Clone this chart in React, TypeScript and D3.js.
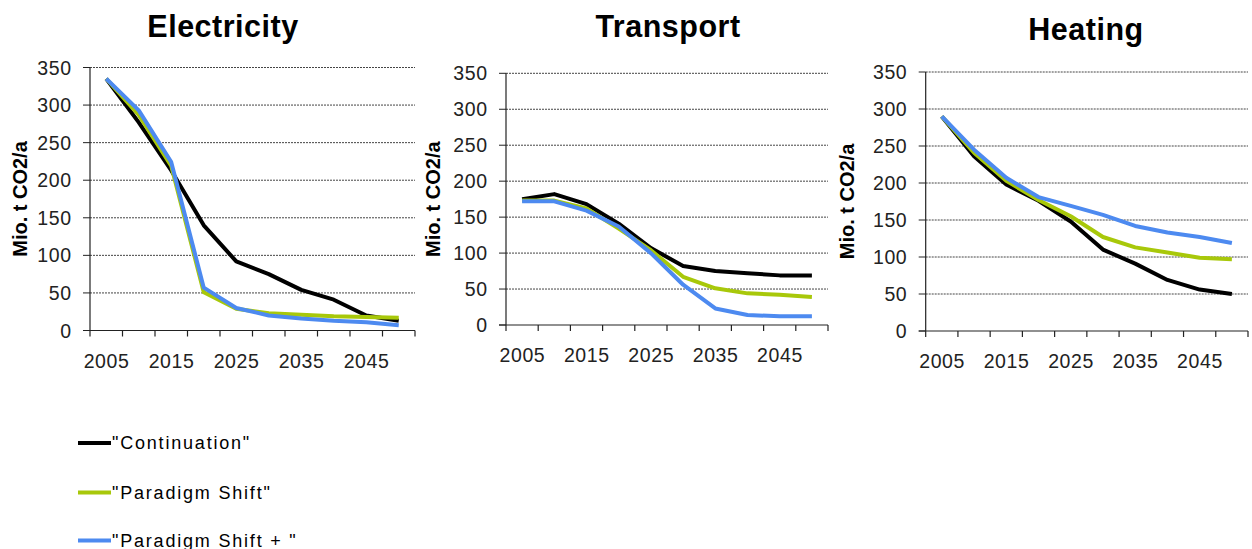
import React from "react";
import * as d3 from "d3";

const years = [2005, 2010, 2015, 2020, 2025, 2030, 2035, 2040, 2045, 2050];
const yTicks = [0, 50, 100, 150, 200, 250, 300, 350];
const xLabelYears = [2005, 2015, 2025, 2035, 2045];

const seriesNames = ['"Continuation"', '"Paradigm Shift"', '"Paradigm Shift + "'];
const seriesColors = ["#000000", "#a8c80a", "#4d8af0"];

const electricityContinuation = [335, 277, 213, 140, 92, 75, 54, 41, 20, 13];
const electricityParadigm = [335, 287, 219, 51, 29, 23, 21, 19, 18, 17];
const electricityParadigmPlus = [335, 293, 224, 57, 30, 20, 16, 13, 11, 7];

const transportContinuation = [175, 182, 168, 141, 107, 82, 75, 72, 69, 69];
const transportParadigm = [173, 173, 162, 134, 104, 67, 51, 44, 42, 39];
const transportParadigmPlus = [172, 172, 159, 137, 100, 56, 23, 14, 12, 12];

const heatingContinuation = [290, 236, 198, 176, 148, 110, 91, 69, 56, 50];
const heatingParadigm = [290, 241, 203, 177, 155, 127, 113, 106, 99, 97];
const heatingParadigmPlus = [290, 245, 207, 181, 169, 157, 142, 133, 127, 119];

const panels = [
  {
    title: "Electricity",
    series: [electricityContinuation, electricityParadigm, electricityParadigmPlus],
    left: 90, right: 415, top: 67.5, bottom: 330.5, titleX: 223, titleY: 37, labelX: 20,
  },
  {
    title: "Transport",
    series: [transportContinuation, transportParadigm, transportParadigmPlus],
    left: 506, right: 828, top: 73.3, bottom: 325, titleX: 668, titleY: 37, labelX: 433,
  },
  {
    title: "Heating",
    series: [heatingContinuation, heatingParadigm, heatingParadigmPlus],
    left: 925.7, right: 1248, top: 72, bottom: 331, titleX: 1086, titleY: 40, labelX: 847,
  },
];

const FONT = "'Liberation Sans', Arial, sans-serif";
const TICK_LS = 0.6;

function Panel({ p }: { p: typeof panels[number] }) {
  const x = d3.scaleBand<number>().domain(years).range([p.left, p.right]).padding(0);
  const y = d3.scaleLinear().domain([0, 350]).range([p.bottom, p.top]);
  const line = d3
    .line<number>()
    .x((_, i) => (x(years[i]) as number) + x.bandwidth() / 2)
    .y((v) => y(v));
  const boundaries = years.map((yr) => x(yr) as number).concat([p.right]);
  const midY = (p.top + p.bottom) / 2;
  return (
    <g>
      <text x={p.titleX} y={p.titleY} textAnchor="middle" fontFamily={FONT} fontWeight="bold" fontSize={30.5} letterSpacing={0.5}>
        {p.title}
      </text>
      <text
        transform={`translate(${p.labelX},${midY}) rotate(-90)`}
        textAnchor="middle"
        dominantBaseline="central"
        fontFamily={FONT}
        fontWeight="bold"
        fontSize={20}
      >
        Mio. t CO2/a
      </text>
      {yTicks.map((t) => (
        <g key={t}>
          {t > 0 && (
            <line x1={p.left} x2={p.right} y1={y(t)} y2={y(t)} stroke="#444" strokeWidth={1} strokeDasharray="2 1" />
          )}
          <line x1={p.left - 7} x2={p.left} y1={y(t)} y2={y(t)} stroke="#222" strokeWidth={1} />
          <text
            x={p.left - 19 + TICK_LS}
            y={y(t)}
            textAnchor="end"
            dominantBaseline="central"
            fontFamily={FONT}
            fontSize={19.5}
            letterSpacing={TICK_LS}
            fill="#222"
          >
            {t}
          </text>
        </g>
      ))}
      <line x1={p.left} x2={p.left} y1={p.top} y2={p.bottom} stroke="#222" strokeWidth={1.2} />
      <line x1={p.left - 7} x2={p.right} y1={p.bottom} y2={p.bottom} stroke="#222" strokeWidth={1.2} />
      {boundaries.map((bx, i) => (
        <line key={i} x1={bx} x2={bx} y1={p.bottom} y2={p.bottom + 6} stroke="#222" strokeWidth={1.2} />
      ))}
      {xLabelYears.map((yr) => (
        <text
          key={yr}
          x={(x(yr) as number) + x.bandwidth() / 2 + TICK_LS / 2}
          y={p.bottom + 37}
          textAnchor="middle"
          fontFamily={FONT}
          fontSize={19.5}
          letterSpacing={TICK_LS}
          fill="#222"
        >
          {yr}
        </text>
      ))}
      {p.series.map((s, i) => (
        <path key={i} d={line(s) || ""} fill="none" stroke={seriesColors[i]} strokeWidth={4} strokeLinejoin="round" />
      ))}
    </g>
  );
}

export default function App() {
  const legendY = [443, 492.5, 540.5];
  return (
    <svg width={1252} height={549} style={{ position: "absolute", left: 0, top: 0, background: "#fff" }}>
      <rect x={0} y={0} width={1252} height={549} fill="#fff" />
      {panels.map((p) => (
        <Panel key={p.title} p={p} />
      ))}
      {seriesNames.map((name, i) => (
        <g key={name}>
          <line x1={78} x2={111} y1={legendY[i]} y2={legendY[i]} stroke={seriesColors[i]} strokeWidth={4} />
          <text x={112} y={legendY[i] + 6} fontFamily={FONT} fontSize={18} letterSpacing={1.8} fill="#000">
            {name}
          </text>
        </g>
      ))}
    </svg>
  );
}
